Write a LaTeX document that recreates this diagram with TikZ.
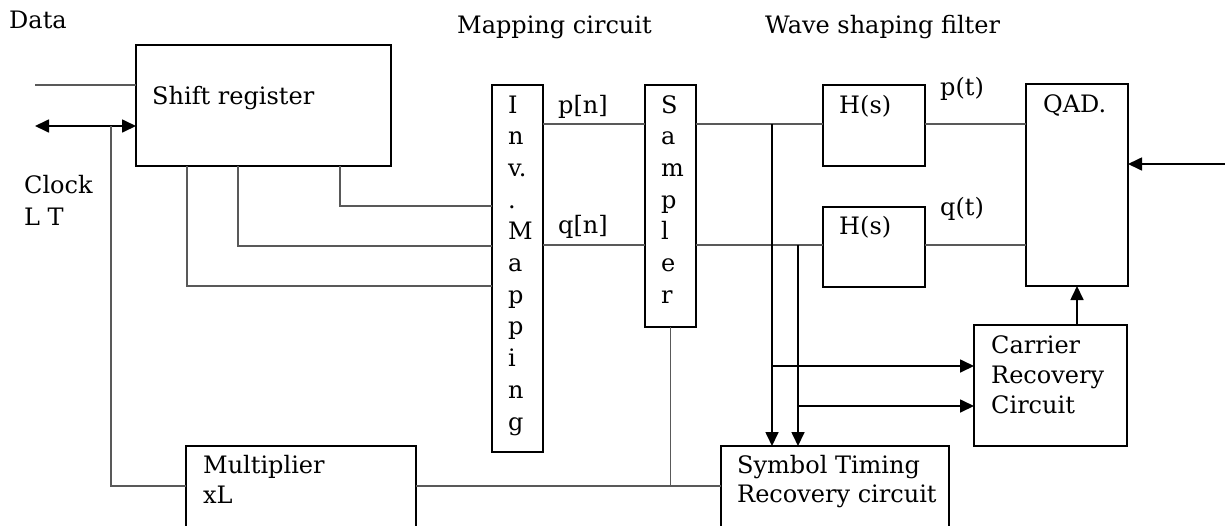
\documentclass[tikz,border=0pt]{standalone}
\usepackage{fontspec}
\setmainfont{DejaVu Serif}
\usetikzlibrary{arrows.meta}
\begin{document}
\begin{tikzpicture}[x=1pt,y=-1pt,
  >={Triangle[length=14pt,width=13pt]},
  blk/.style={draw=black,line width=1.6pt,inner sep=0pt,outer sep=0pt,anchor=north west},
  wire/.style={draw=black!65,line width=1.1pt},
  arr/.style={draw=black,line width=1.7pt,->},
  darr/.style={draw=black,line width=1.7pt,<->},
  txt/.style={anchor=base west,inner sep=0pt,font=\fontsize{24}{28}\selectfont}]
\useasboundingbox (0,0) rectangle (1225,525);
\clip (0,0) rectangle (1225,525);
% boxes
\node[blk,minimum width=255pt,minimum height=121pt] (sr) at (136,45) {};
\node[blk,minimum width=51pt,minimum height=367pt] (inv) at (492,85) {};
\node[blk,minimum width=51pt,minimum height=242pt] (samp) at (645,85) {};
\node[blk,minimum width=102pt,minimum height=81pt] (h1) at (823,85) {};
\node[blk,minimum width=102pt,minimum height=80pt] (h2) at (823,207) {};
\node[blk,minimum width=102pt,minimum height=202pt] (qad) at (1026,84) {};
\node[blk,minimum width=153pt,minimum height=121pt] (car) at (974,325) {};
\node[blk,minimum width=230pt,minimum height=90pt] (mul) at (186,446) {};
\node[blk,minimum width=228pt,minimum height=90pt] (sym) at (721,446) {};
% texts
\node[txt] (tdata) at (9,28) {Data};
\node[txt] (tmap) at (457,33) {Mapping circuit};
\node[txt] (twave) at (765,33) {Wave shaping filter};
\node[txt] (tsr) at (152,104) {Shift register};
\node[txt] (tclk) at (24,193) {Clock};
\node[txt] (tlt) at (24,225) {L T};
\node[txt] (tpn) at (558,113) {p[n]};
\node[txt] (tqn) at (558,233) {q[n]};
\node[txt] (th1) at (839,113) {H(s)};
\node[txt] (th2) at (839,234) {H(s)};
\node[txt] (tpt) at (940,95) {p(t)};
\node[txt] (tqt) at (940,215) {q(t)};
\node[txt] (tqad) at (1043,112) {QAD.};
\node[txt] (tc1) at (991,353) {Carrier};
\node[txt] (tc2) at (991,383) {Recovery};
\node[txt] (tc3) at (991,413) {Circuit};
\node[txt] (tm1) at (203,473) {Multiplier};
\node[txt] (tm2) at (203,503) {xL};
\node[txt] (ts1) at (737,473) {Symbol Timing};
\node[txt] (ts2) at (737,502) {Recovery circuit};
\foreach \c [count=\i] in {I,n,v.,.,M,a,p,p,i,n,g}
  \node[txt] (inv\i) at (508,{113+31.7*(\i-1)}) {\c};
\foreach \c [count=\i] in {S,a,m,p,l,e,r}
  \node[txt] (samp\i) at (661,{113+31.7*(\i-1)}) {\c};
% coordinates
\coordinate (din) at (35,85);
\coordinate (clk) at (35,126);
\coordinate (cb) at (111,126);
\coordinate (bot) at (0,486);
\coordinate (pr) at (0,124);
\coordinate (qr) at (0,245);
\coordinate (br1) at (772,124);
\coordinate (br2) at (798,245);
\coordinate (cr1) at (0,366);
\coordinate (cr2) at (0,406);
\coordinate (rin) at (1225,164);
% connectors
\draw[wire] (din) -- (din -| sr.west);
\draw[darr] (clk) -- (clk -| sr.west);
\draw[wire] (cb) |- (bot -| mul.west);
\draw[wire] (mul.east |- bot) -- (sym.west |- bot);
\draw[wire] (samp.south) -- (samp.south |- bot);
\draw[wire] (sr.south -| 340,0) |- (inv.west |- 0,206);
\draw[wire] (sr.south -| 238,0) |- (inv.west |- 0,246);
\draw[wire] (sr.south -| 187,0) |- (inv.west |- 0,286);
\draw[wire] (inv.east |- pr) -- (samp.west |- pr);
\draw[wire] (samp.east |- pr) -- (h1.west |- pr);
\draw[wire] (h1.east |- pr) -- (qad.west |- pr);
\draw[wire] (inv.east |- qr) -- (samp.west |- qr);
\draw[wire] (samp.east |- qr) -- (h2.west |- qr);
\draw[wire] (h2.east |- qr) -- (qad.west |- qr);
\draw[arr] (br1) -- (br1 |- sym.north);
\draw[arr] (br2) -- (br2 |- sym.north);
\draw[arr] (br1 |- cr1) -- (car.west |- cr1);
\draw[arr] (br2 |- cr2) -- (car.west |- cr2);
\draw[arr] (qad.south |- car.north) -- (qad.south);
\draw[arr] (rin) -- (qad.east |- rin);
\end{tikzpicture}
\end{document}
